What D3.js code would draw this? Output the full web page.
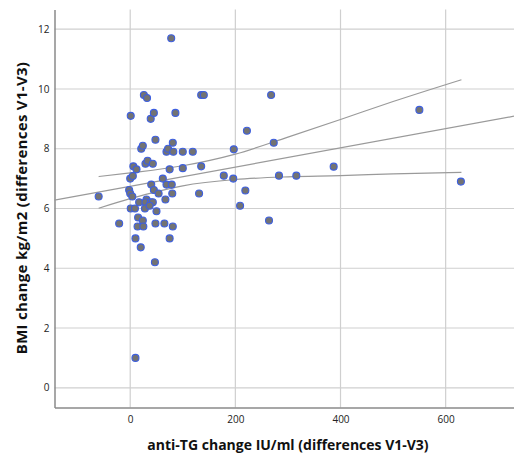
<!DOCTYPE html>
<html>
<head>
<meta charset="utf-8">
<script src="https://cdn.jsdelivr.net/npm/d3@7"></script>
<style>
  body { margin: 0; background: #fff; }
  text { font-family: "Open Sans", "Liberation Sans", sans-serif; }
</style>
</head>
<body>
<script>
// anti-TG change (x) vs BMI change (y)
const antiTG = [-60, -21, 1, 0, -2, 0, 4, 1, 9, 6, 5, 12, 21, 24, 26, 32, 39, 45, 48, 78,
    86, 29, 33, 43, 40, 45, 54, 17, 31, 29, 28, 39, 43, 37, 50, 15, 24, 14, 25, 48,
    10, 20, 47, 10, 62, 69, 79, 80, 67, 65, 81, 75, 75, 69, 72, 81, 82, 100, 119, 100,
    135, 140, 135, 131, 178, 196, 197, 222, 219, 209, 264, 268, 273, 283, 316, 387, 550, 629];
const bmi = [6.4, 5.5, 9.1, 7.0, 6.62, 6.5, 6.4, 6.0, 6.0, 7.41, 7.09, 7.31, 8.0, 8.1, 9.8, 9.7, 9.0, 9.2, 8.3, 11.7,
    9.2, 7.5, 7.6, 7.5, 6.8, 6.62, 6.5, 6.21, 6.3, 6.21, 6.0, 6.21, 6.21, 6.09, 5.91, 5.7, 5.6, 5.4, 5.4, 5.5,
    5.0, 4.7, 4.2, 1.0, 7.0, 6.8, 6.8, 6.5, 6.3, 5.5, 5.4, 5.0, 7.31, 7.9, 8.0, 8.2, 7.9, 7.9, 7.9, 7.35,
    9.8, 9.8, 7.41, 6.5, 7.1, 7.0, 7.98, 8.6, 6.6, 6.09, 5.6, 9.8, 8.2, 7.1, 7.1, 7.4, 9.3, 6.9];

// fit line and its confidence band
const fitX = [-144, 730];
const fitY = [6.28, 9.09];
const bandX = [-60, 0, 100, 200, 300, 400, 500, 630];
const bandUpper = [7.07, 7.19, 7.43, 7.82, 8.39, 8.98, 9.58, 10.31];
const bandLower = [6.01, 6.33, 6.76, 6.97, 7.06, 7.10, 7.16, 7.21];

const xTicks = [0, 200, 400, 600];
const yTicks = [0, 2, 4, 6, 8, 10, 12];
const xTitle = "anti-TG change IU/ml (differences V1-V3)";
const yTitle = "BMI change kg/m2 (differences V1-V3)";

const width = 514, height = 456;
const plotLeft = 54.5, plotRight = 514, plotTop = 9.5, plotBottom = 407.5;

const svg = d3.select("body").append("svg")
    .attr("width", width)
    .attr("height", height);

const x = d3.scaleLinear().domain([-144, 730]).range([plotLeft, plotRight]);
const y = d3.scaleLinear().domain([-0.66, 12.66]).range([plotBottom, plotTop]);

// grid
svg.append("g")
    .selectAll("line")
    .data(yTicks)
    .join("line")
    .attr("x1", plotLeft)
    .attr("x2", plotRight)
    .attr("y1", d => y(d))
    .attr("y2", d => y(d))
    .attr("stroke", "#cfcfcf")
    .attr("stroke-width", 1.2);

svg.append("g")
    .selectAll("line")
    .data(xTicks)
    .join("line")
    .attr("x1", d => x(d))
    .attr("x2", d => x(d))
    .attr("y1", plotTop)
    .attr("y2", plotBottom)
    .attr("stroke", "#cfcfcf")
    .attr("stroke-width", 1.2);

// axes
const xAxis = svg.append("g")
    .attr("transform", `translate(0,${plotBottom})`)
    .call(d3.axisBottom(x).tickValues(xTicks).tickSize(0).tickPadding(8));
const yAxis = svg.append("g")
    .attr("transform", `translate(${plotLeft},0)`)
    .call(d3.axisLeft(y).tickValues(yTicks).tickSize(0).tickPadding(5));

[xAxis, yAxis].forEach(g => {
    g.select(".domain").attr("stroke", "#8a8a8a").attr("stroke-width", 1.5);
    g.selectAll("text")
        .attr("fill", "#222")
        .style("font-size", "10px")
        .style("font-family", "'Open Sans', sans-serif");
});

// fit line and band
svg.append("line")
    .attr("x1", x(fitX[0]))
    .attr("y1", y(fitY[0]))
    .attr("x2", x(fitX[1]))
    .attr("y2", y(fitY[1]))
    .attr("stroke", "#9a9a9a")
    .attr("stroke-width", 1.2);

const band = d3.line().curve(d3.curveMonotoneX)
    .x(d => x(d[0]))
    .y(d => y(d[1]));

[bandUpper, bandLower].forEach(vals => {
    svg.append("path")
        .datum(bandX.map((v, i) => [v, vals[i]]))
        .attr("d", band)
        .attr("fill", "none")
        .attr("stroke", "#9a9a9a")
        .attr("stroke-width", 1.2);
});

// points
svg.append("g")
    .selectAll("circle")
    .data(antiTG.map((v, i) => [v, bmi[i]]))
    .join("circle")
    .attr("cx", d => x(d[0]))
    .attr("cy", d => y(d[1]))
    .attr("r", 3.5)
    .attr("fill", "#737373")
    .attr("stroke", "#3d5fe0")
    .attr("stroke-width", 1.1);

// titles
svg.append("text")
    .attr("x", 288)
    .attr("y", 450)
    .attr("text-anchor", "middle")
    .attr("font-weight", "bold")
    .attr("font-size", 14)
    .attr("fill", "#111")
    .text(xTitle);

svg.append("text")
    .attr("transform", "translate(27,208) rotate(-90)")
    .attr("text-anchor", "middle")
    .attr("font-weight", "bold")
    .attr("font-size", 15)
    .attr("letter-spacing", 0.3)
    .attr("fill", "#111")
    .text(yTitle);
</script>
</body>
</html>
